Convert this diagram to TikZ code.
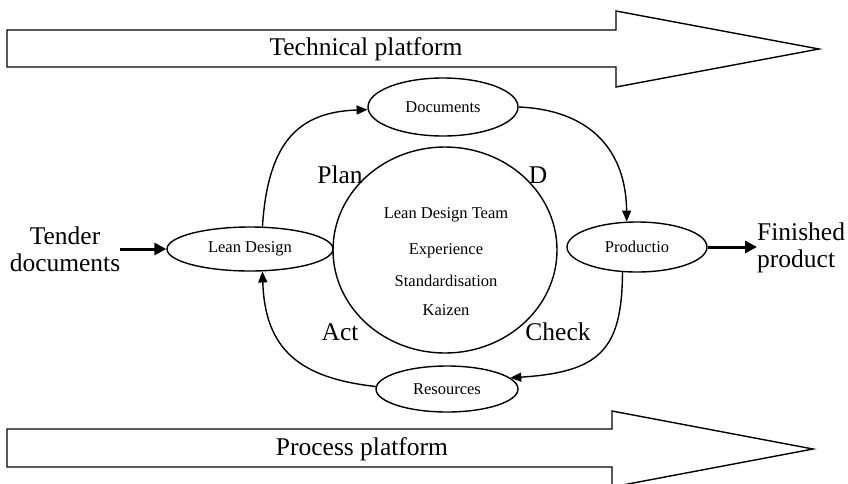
\documentclass[tikz,border=0pt]{standalone}
\usepackage{fontspec}
\setmainfont{Liberation Serif}
\usetikzlibrary{shapes.geometric,arrows.meta}
\begin{document}
\begin{tikzpicture}[x=1pt,y=-1pt,
  bigtxt/.style={font=\fontsize{25.5}{27}\selectfont, inner sep=0pt},
  smalltxt/.style={font=\fontsize{16.5}{19}\selectfont, inner sep=0pt},
  oval/.style={ellipse, draw, line width=1.4pt, inner sep=0pt,
               font=\fontsize{16.5}{19}\selectfont},
  flow/.style={line width=1.4pt, -{Triangle[length=11pt,width=9pt]}},
  boldflow/.style={line width=3pt, -{Triangle[length=12pt,width=12pt]}},
  platform/.style={draw, line width=1.4pt, line join=miter}]
\clip (0,0) rectangle (848,483);

% platform arrows
\draw[platform] (7,30) -- (616,30) -- (616,11) -- (819,49) -- (616,87)
  -- (616,67) -- (7,67) -- cycle;
\node[bigtxt] (tech) at (366,49) {Technical platform};
\draw[platform] (7,429) -- (612,429) -- (612,411) -- (813,449) -- (612,487)
  -- (612,467) -- (7,467) -- cycle;
\node[bigtxt] (proc) at (362,449) {Process platform};

% central team circle
\node[ellipse, draw, line width=1.4pt, minimum width=224pt, minimum height=206pt,
      inner sep=0pt] (team) at (445,250) {};
\node[smalltxt] (t1) at (446,215) {Lean Design Team};
\node[smalltxt] (t2) at (446,251) {Experience};
\node[smalltxt] (t3) at (446,281) {Standardisation};
\node[smalltxt] (t4) at (446,310) {Kaizen};

% process steps
\node[oval, minimum width=150pt, minimum height=58pt] (doc) at (443,107) {Documents};
\node[oval, minimum width=166pt, minimum height=44pt] (ld)  at (250,249) {Lean Design};
\node[oval, minimum width=140pt, minimum height=50pt] (prod) at (637,247) {Productio};
\node[oval, minimum width=142pt, minimum height=46pt] (res) at (447,389) {Resources};

% PDCA labels
\node[bigtxt] (plan)  at (340,175) {Plan};
\node[bigtxt] (do)    at (538,175) {D};
\node[bigtxt] (act)   at (340,332) {Act};
\node[bigtxt] (check) at (558,332) {Check};

% input and output
\node[bigtxt, align=center] (tender) at (65,249) {Tender\\documents};
\node[bigtxt, align=left, anchor=west] (fin) at (757,248) {Finished\\product};

% cycle connectors
\draw[flow] (ld.61) .. controls (268,140) and (300,112) .. (doc.182);
\draw[flow] (doc.east) .. controls (590,110) and (626,150) .. (prod.112);
\draw[flow] (prod.240) .. controls (622,350) and (600,372) .. (res.10);
\draw[flow] (res.178) .. controls (300,378) and (265,350) .. (ld.-61);

% input / output arrows
\draw[boldflow] (tender.east |- ld.west) -- (ld.west);
\draw[boldflow] (prod.east) -- (fin.west |- prod.east);
\end{tikzpicture}
\end{document}
